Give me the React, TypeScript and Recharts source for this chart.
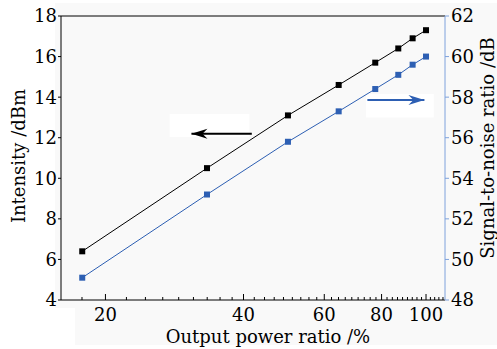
import { LineChart, Line, XAxis, YAxis, ReferenceLine, ReferenceArea } from "recharts";

const powerRatio = [17.8, 33.3, 50, 64.5, 77.5, 87, 93.5, 100];
const intensity = [6.4, 10.5, 13.1, 14.6, 15.7, 16.4, 16.9, 17.3];
const snr = [49.1, 53.2, 55.8, 57.3, 58.4, 59.1, 59.6, 60.0];

const majorTicks = [20, 40, 60, 80, 100];
const minorStep = 20 / 9;
const xTicks = Array.from({ length: 42 }, (_, i) => 20 + (i - 1) * minorStep);
const leftTicks = [4, 6, 8, 10, 12, 14, 16, 18];
const rightTicks = [48, 50, 52, 54, 56, 58, 60, 62];

const data = powerRatio.map((x, i) => ({ x, intensity: intensity[i], snr: snr[i] }));

const FONT = "'DejaVu Serif', serif";
const BLUE = "#2d5fb3";
const BLUE_AXIS = "#7ea2dc";

const isMajor = (v: number) => majorTicks.some((m) => Math.abs(m - v) < 0.01);

const XTick = (props: any) => {
  const { x, y, payload } = props;
  const major = isMajor(payload.value);
  return (
    <g>
      <line x1={x} x2={x} y1={y} y2={y - (major ? 6 : 3)} stroke="#000" strokeWidth={1} />
      {major && (
        <text x={x} y={y + 21} textAnchor="middle" fontFamily={FONT} fontSize={18} fill="#000">
          {Math.round(payload.value)}
        </text>
      )}
    </g>
  );
};

const Square = (color: string) => (props: any) => {
  const { cx, cy } = props;
  if (cx == null || cy == null) return <g />;
  return <rect x={cx - 3} y={cy - 3} width={6} height={6} fill={color} />;
};

const Arrow = (color: string, dir: "left" | "right") => (props: any) => {
  const { x1, y1, x2, y2 } = props;
  if (x1 == null) return <g />;
  const tipX = dir === "left" ? Math.min(x1, x2) : Math.max(x1, x2);
  const s = dir === "left" ? 1 : -1;
  return (
    <g>
      <line x1={x1} y1={y1} x2={x2} y2={y2} stroke={color} strokeWidth={2} />
      <path
        d={`M${tipX},${y1} L${tipX + s * 16},${y1 - 5} L${tipX + s * 11},${y1} L${tipX + s * 16},${y1 + 5} Z`}
        fill={color}
      />
    </g>
  );
};

export default function App() {
  return (
    <div style={{ position: "absolute", left: 0, top: 0, width: 497, height: 349, background: "#fff" }}>
      <div style={{ position: "absolute", left: 55, top: 3, width: 442, height: 342, background: "#f9f9f9" }} />
      <div style={{ position: "absolute", left: 55, top: 308, width: 20, height: 37, background: "#fff" }} />
      <div style={{ position: "absolute", left: 0, top: 0 }}>
        <LineChart width={497} height={349} data={data} margin={{ top: 16, right: 0, bottom: 0, left: 0 }}>
          <XAxis
            dataKey="x"
            type="number"
            scale="log"
            domain={[16, 110]}
            allowDataOverflow
            ticks={xTicks}
            interval={0}
            tick={<XTick />}
            tickLine={false}
            tickSize={0}
            tickMargin={0}
            height={49}
            stroke="#000"
            label={{
              value: "Output power ratio /%",
              position: "center",
              dx: 15,
              dy: 12,
              style: { fontFamily: FONT, fontSize: 18, fill: "#000" },
            }}
          />
          <YAxis
            yAxisId="left"
            domain={[4, 18]}
            ticks={leftTicks}
            interval={0}
            width={61}
            stroke="#000"
            tickSize={3}
            tickMargin={1}
            tick={{ fontFamily: FONT, fontSize: 18, fill: "#000" }}
            label={{
              value: "Intensity /dBm",
              angle: -90,
              position: "center",
              dx: -12,
              dy: -2,
              style: { fontFamily: FONT, fontSize: 18, fill: "#000" },
            }}
          />
          <YAxis
            yAxisId="right"
            orientation="right"
            domain={[48, 62]}
            ticks={rightTicks}
            interval={0}
            width={52}
            stroke={BLUE_AXIS}
            tickSize={4}
            tick={{ fontFamily: FONT, fontSize: 18, fill: "#000" }}
            label={{
              value: "Signal-to-noise ratio /dB",
              angle: -90,
              position: "center",
              dx: 17,
              dy: -10,
              style: { fontFamily: FONT, fontSize: 18, fill: "#000" },
            }}
          />
          <ReferenceLine yAxisId="left" y={18} stroke="#000" />
          <ReferenceArea yAxisId="left" x1={27.6} x2={41.2} y1={12.04} y2={13.17} fill="#fff" fillOpacity={1} stroke="none" />
          <ReferenceArea yAxisId="right" x1={74} x2={104} y1={57.0} y2={58.15} fill="#fff" fillOpacity={1} stroke="none" />
          <Line
            yAxisId="left"
            dataKey="intensity"
            stroke="#000"
            strokeWidth={1}
            dot={Square("#000")}
            isAnimationActive={false}
          />
          <Line
            yAxisId="right"
            dataKey="snr"
            stroke={BLUE}
            strokeWidth={1}
            dot={Square(BLUE)}
            isAnimationActive={false}
          />
          <ReferenceLine
            yAxisId="left"
            segment={[
              { x: 30.8, y: 12.2 },
              { x: 41.7, y: 12.2 },
            ]}
            shape={Arrow("#000", "left")}
          />
          <ReferenceLine
            yAxisId="right"
            segment={[
              { x: 74.5, y: 57.86 },
              { x: 99.2, y: 57.86 },
            ]}
            shape={Arrow(BLUE, "right")}
          />
        </LineChart>
      </div>
    </div>
  );
}
